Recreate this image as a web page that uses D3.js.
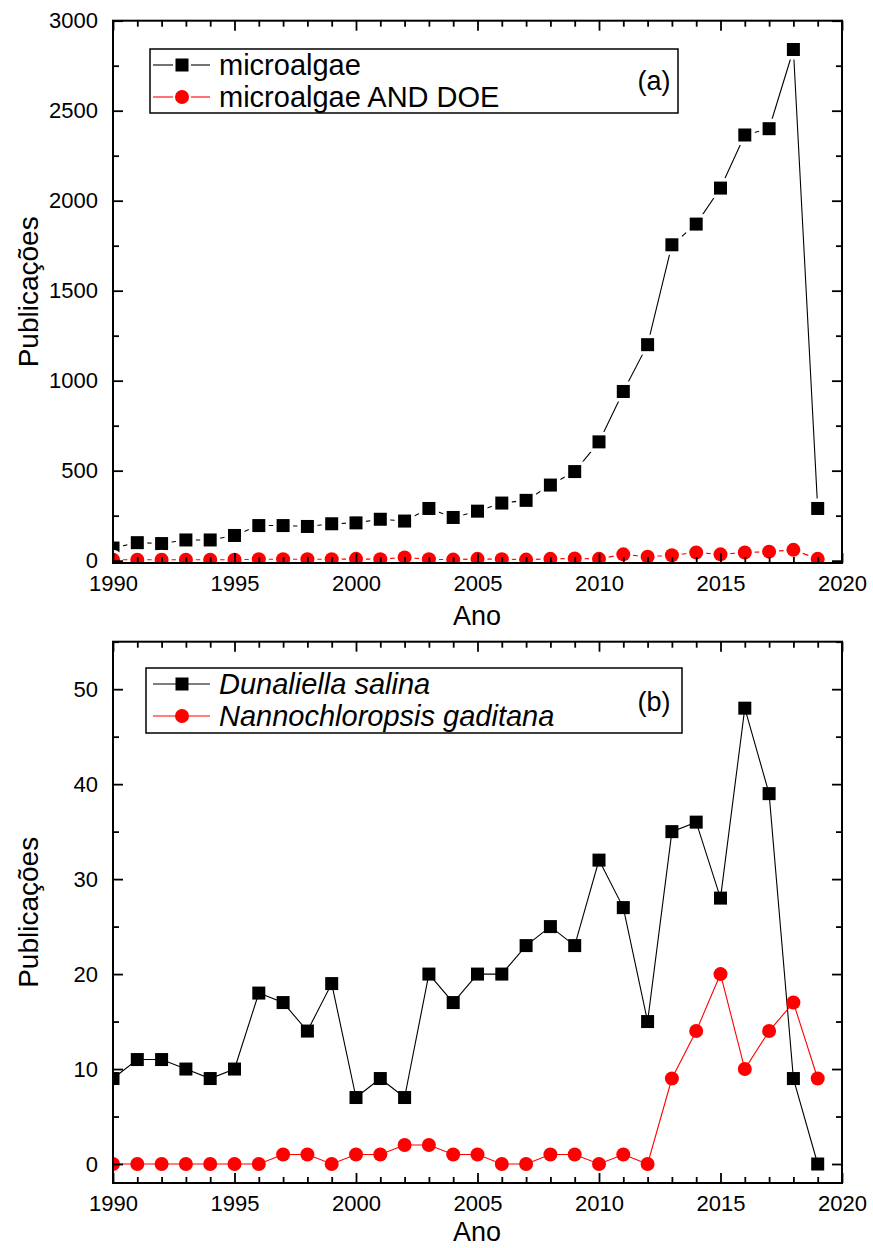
<!DOCTYPE html>
<html>
<head>
<meta charset="utf-8">
<script src="https://cdn.jsdelivr.net/npm/d3@7"></script>
<style>
  html, body { margin: 0; padding: 0; background: #fff; }
  svg text { font-family: "Liberation Sans", Arial, sans-serif; fill: #000; }
</style>
</head>
<body>
<svg id="chart" width="873" height="1248"></svg>
<script>
// Publication counts per year
const years = d3.range(1990, 2020);

const microalgae = [70, 100, 95, 115, 115, 140, 195, 195, 190, 205,
                    210, 230, 220, 290, 240, 275, 320, 335, 420, 495,
                    660, 940, 1200, 1755, 1870, 2070, 2365, 2400, 2840, 290];
const microalgaeDOE = [5, 5, 5, 5, 5, 5, 8, 8, 8, 8,
                       10, 8, 18, 8, 6, 10, 8, 6, 10, 12,
                       10, 35, 22, 30, 45, 35, 45, 50, 60, 10];

const dunaliella = [9, 11, 11, 10, 9, 10, 18, 17, 14, 19,
                    7, 9, 7, 20, 17, 20, 20, 23, 25, 23,
                    32, 27, 15, 35, 36, 28, 48, 39, 9, 0];
const nannochloropsis = [0, 0, 0, 0, 0, 0, 0, 1, 1, 0,
                         1, 1, 2, 2, 1, 1, 0, 0, 1, 1,
                         0, 1, 0, 9, 14, 20, 10, 14, 17, 9];

const xMajorTicks = [1990, 1995, 2000, 2005, 2010, 2015, 2020];
const yTicksA = [0, 500, 1000, 1500, 2000, 2500, 3000];
const yTicksB = [0, 10, 20, 30, 40, 50];

const svg = d3.select("#chart");
svg.append("rect").attr("width", 873).attr("height", 1248).attr("fill", "#fff");

const left = 113, right = 842;
const x = d3.scaleLinear().domain([1990, 2020]).range([left, right]);

function drawPanel(cfg) {
  const { id, top, bottom, yDomain, yTicks, yMinorStep, series, gap, legend, tag } = cfg;
  const y = d3.scaleLinear().domain(yDomain).range([bottom, top]);
  const g = svg.append("g");

  g.append("clipPath").attr("id", "clip-" + id)
    .append("rect").attr("x", left).attr("y", top)
    .attr("width", right - left).attr("height", bottom - top);

  const plot = g.append("g").attr("clip-path", `url(#clip-${id})`);
  const line = d3.line().x((d, i) => x(years[i])).y(d => y(d));

  series.forEach(s => {
    plot.append("path").datum(s.values)
      .attr("d", line).attr("fill", "none")
      .attr("stroke", s.color).attr("stroke-width", 1.1);
    const pts = plot.append("g");
    s.values.forEach((v, i) => {
      const cx = x(years[i]), cy = y(v);
      if (gap) {
        if (s.shape === "square") {
          pts.append("rect").attr("x", cx - 10).attr("y", cy - 10)
            .attr("width", 20).attr("height", 20).attr("fill", "#fff");
        } else {
          pts.append("circle").attr("cx", cx).attr("cy", cy).attr("r", 10).attr("fill", "#fff");
        }
      }
    });
    s.values.forEach((v, i) => {
      const cx = x(years[i]), cy = y(v);
      if (s.shape === "square") {
        pts.append("rect").attr("x", cx - 6.5).attr("y", cy - 6.5)
          .attr("width", 13).attr("height", 13).attr("fill", s.color);
      } else {
        pts.append("circle").attr("cx", cx).attr("cy", cy).attr("r", 7).attr("fill", s.color);
      }
    });
  });

  // axes: ticks point inward on all four sides
  const xMinor = d3.range(1990, 2021).filter(v => v % 5 !== 0);
  const yMinor = d3.range(yTicks[0], yDomain[1] + 0.001, yMinorStep)
    .filter(v => !yTicks.includes(v) && v <= yDomain[1]);

  const styleAxis = sel => {
    sel.select(".domain").remove();
    sel.selectAll("line").attr("stroke", "#000").attr("stroke-width", 1.8);
    sel.selectAll("text").attr("font-size", 22).attr("font-family", '"Liberation Sans", Arial, sans-serif');
  };

  g.append("g").attr("transform", `translate(0,${bottom})`)
    .call(d3.axisBottom(x).tickValues(xMajorTicks).tickFormat(d3.format("d")).tickSize(-10).tickPadding(12))
    .call(styleAxis);
  g.append("g").attr("transform", `translate(0,${bottom})`)
    .call(d3.axisBottom(x).tickValues(xMinor).tickFormat("").tickSize(-6))
    .call(styleAxis);
  g.append("g").attr("transform", `translate(0,${top})`)
    .call(d3.axisTop(x).tickValues(xMajorTicks).tickFormat("").tickSize(-10))
    .call(styleAxis);
  g.append("g").attr("transform", `translate(0,${top})`)
    .call(d3.axisTop(x).tickValues(xMinor).tickFormat("").tickSize(-6))
    .call(styleAxis);

  g.append("g").attr("transform", `translate(${left},0)`)
    .call(d3.axisLeft(y).tickValues(yTicks).tickFormat(d3.format("d")).tickSize(-10).tickPadding(15))
    .call(styleAxis);
  g.append("g").attr("transform", `translate(${left},0)`)
    .call(d3.axisLeft(y).tickValues(yMinor).tickFormat("").tickSize(-6))
    .call(styleAxis);
  g.append("g").attr("transform", `translate(${right},0)`)
    .call(d3.axisRight(y).tickValues(yTicks).tickFormat("").tickSize(-10))
    .call(styleAxis);
  g.append("g").attr("transform", `translate(${right},0)`)
    .call(d3.axisRight(y).tickValues(yMinor).tickFormat("").tickSize(-6))
    .call(styleAxis);

  g.append("rect").attr("x", left).attr("y", top)
    .attr("width", right - left).attr("height", bottom - top)
    .attr("fill", "none").attr("stroke", "#000").attr("stroke-width", 2);

  // axis titles
  g.append("text").attr("x", 477).attr("y", cfg.xTitleY)
    .attr("text-anchor", "middle").attr("font-size", 27).text("Ano");
  g.append("text")
    .attr("transform", `translate(38,${(top + bottom) / 2}) rotate(-90)`)
    .attr("text-anchor", "middle").attr("font-size", 28).text("Publicações");

  // legend
  const lg = g.append("g");
  lg.append("rect").attr("x", legend.x0).attr("y", legend.y0)
    .attr("width", legend.x1 - legend.x0).attr("height", legend.y1 - legend.y0)
    .attr("fill", "#fff").attr("stroke", "#000").attr("stroke-width", 1.5);
  series.forEach((s, k) => {
    const ry = legend.rows[k];
    if (gap) {
      lg.append("line").attr("x1", 153).attr("x2", 173).attr("y1", ry).attr("y2", ry)
        .attr("stroke", s.color).attr("stroke-width", 1.1);
      lg.append("line").attr("x1", 191).attr("x2", 210).attr("y1", ry).attr("y2", ry)
        .attr("stroke", s.color).attr("stroke-width", 1.1);
    } else {
      lg.append("line").attr("x1", 153).attr("x2", 210).attr("y1", ry).attr("y2", ry)
        .attr("stroke", s.color).attr("stroke-width", 1.1);
    }
    if (s.shape === "square") {
      lg.append("rect").attr("x", 182 - 6.5).attr("y", ry - 6.5)
        .attr("width", 13).attr("height", 13).attr("fill", s.color);
    } else {
      lg.append("circle").attr("cx", 182).attr("cy", ry).attr("r", 7).attr("fill", s.color);
    }
    lg.append("text").attr("x", 219).attr("y", ry).attr("dy", "0.35em")
      .attr("font-size", 29).attr("font-style", legend.italic ? "italic" : "normal")
      .text(s.name);
  });
  lg.append("text").attr("x", 654).attr("y", tag.y).attr("dy", "0.35em")
    .attr("text-anchor", "middle").attr("font-size", 27).text(tag.text);
}

drawPanel({
  id: "a", top: 20.7, bottom: 563, yDomain: [-13, 3000], yTicks: yTicksA, yMinorStep: 250,
  gap: true, xTitleY: 625,
  series: [
    { name: "microalgae", values: microalgae, color: "#000", shape: "square" },
    { name: "microalgae AND DOE", values: microalgaeDOE, color: "#ff0000", shape: "circle" }
  ],
  legend: { x0: 150, x1: 678, y0: 49, y1: 113, rows: [65, 97], italic: false },
  tag: { text: "(a)", y: 81 }
});

drawPanel({
  id: "b", top: 641.7, bottom: 1183, yDomain: [-2, 55], yTicks: yTicksB, yMinorStep: 5,
  gap: false, xTitleY: 1241,
  series: [
    { name: "Dunaliella salina", values: dunaliella, color: "#000", shape: "square" },
    { name: "Nannochloropsis gaditana", values: nannochloropsis, color: "#ff0000", shape: "circle" }
  ],
  legend: { x0: 146, x1: 682, y0: 668, y1: 733, rows: [684, 716], italic: true },
  tag: { text: "(b)", y: 702 }
});
</script>
</body>
</html>
